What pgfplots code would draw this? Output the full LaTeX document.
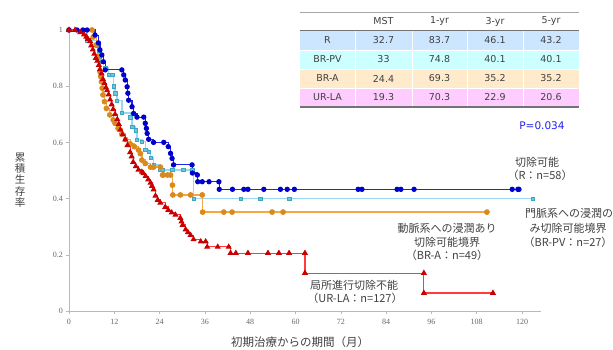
\documentclass[border=0pt]{standalone}
\usepackage{pgfplots}
\pgfplotsset{compat=1.18}
\usepackage{fontspec}
\setmainfont{Liberation Serif}
\newfontfamily\jp{Noto Sans CJK JP}
\newfontfamily\tb{DejaVu Sans}
\definecolor{cR}{HTML}{2222EE}
\definecolor{cRm}{HTML}{0000CC}
\definecolor{cPV}{HTML}{99D8F2}
\definecolor{cPVm}{HTML}{3AA8C4}
\definecolor{cA}{HTML}{F7A844}
\definecolor{cAm}{HTML}{D98A1E}
\definecolor{cU}{HTML}{FF3B3B}
\definecolor{cUm}{HTML}{C80000}
\definecolor{rowR}{HTML}{CCE6FF}
\definecolor{rowPV}{HTML}{CCFFFF}
\definecolor{rowA}{HTML}{FFEBCC}
\definecolor{rowU}{HTML}{FFCCFF}
\definecolor{txt}{HTML}{404040}
\begin{document}
\begin{tikzpicture}[x=1pt,y=1pt]
\begin{axis}[
  at={(69pt,38pt)}, anchor=south west, scale only axis,
  width=471.9pt, height=281pt,
  xmin=0, xmax=125, ymin=0, ymax=1,
  axis x line*=bottom, axis y line*=left,
  axis line style={draw=gray!55, line width=0.6pt},
  clip=false,
  xtick={0,12,24,36,48,60,72,84,96,108,120},
  xticklabels={0,12,24,36,48,60,72,84,96,108,120},
  ytick={0,0.2,0.4,0.6,0.8,1},
  yticklabels={0,0.2,0.4,0.6,0.8,1},
  tick align=outside, major tick length=2.5pt,
  tick style={draw=gray!55, line width=0.5pt},
  tick label style={font=\fontsize{8}{9}\selectfont, text=black!60},
  xticklabel style={yshift=-2pt},
  const plot,
]
% BR-PV
\addplot[color=cPV, line width=1.3pt, mark=square*, mark size=1.7pt,
  mark options={fill=cPVm!70, draw=cPVm, line width=0.4pt}] coordinates {
(0,1)(4.8,0.963)(7.4,0.945)(7.8,0.926)(8.2,0.905)(8.7,0.887)(9.6,0.865)(10.5,0.84)(11.4,0.84)(11.8,0.80)(12.2,0.775)(12.7,0.748)(14.0,0.705)(16.2,0.69)(16.7,0.656)(17.6,0.644)(18.0,0.61)(19.3,0.603)(20.2,0.573)(21.1,0.567)(21.6,0.545)(22.4,0.52)(24.2,0.502)(24.7,0.502)(27.3,0.502)(30.3,0.502)(32.6,0.502)(33.0,0.40)(45.5,0.40)(50.6,0.40)(58.3,0.40)(122.9,0.40)};
% BR-A
\addplot[color=cA, line width=1.3pt, mark=*, mark size=2.2pt,
  mark options={fill=cAm, draw=cAm}] coordinates {
(0,1)(6.1,1)(6.4,0.975)(7.2,0.947)(7.7,0.904)(8.2,0.852)(8.4,0.834)(8.6,0.816)(8.8,0.793)(9.0,0.769)(9.4,0.745)(9.9,0.721)(10.8,0.698)(11.7,0.68)(12.2,0.668)(13.0,0.65)(14.0,0.63)(15.0,0.61)(16.2,0.595)(17.3,0.585)(18.4,0.573)(18.9,0.56)(19.3,0.537)(20.2,0.525)(21.6,0.512)(22.4,0.512)(24.2,0.512)(24.8,0.484)(25.0,0.484)(26.1,0.484)(26.9,0.484)(27.4,0.448)(27.5,0.413)(29.5,0.413)(32.2,0.413)(35.3,0.413)(35.4,0.352)(41.0,0.352)(43.2,0.352)(53.8,0.352)(56.7,0.352)(110.7,0.352)};
% R
\addplot[color=cR, line width=1.1pt, mark=*, mark size=2.1pt,
  mark options={fill=cRm, draw=cRm}] coordinates {
(0,1)(2.1,1)(3.7,1)(4.8,1)(6.9,0.982)(7.8,0.954)(8.2,0.929)(8.7,0.911)(9.1,0.887)(9.6,0.858)(14.0,0.858)(14.5,0.84)(14.9,0.822)(15.4,0.798)(15.6,0.775)(15.8,0.75)(16.7,0.727)(17.1,0.703)(18.0,0.69)(19.8,0.69)(20.2,0.668)(20.5,0.65)(20.7,0.632)(21.1,0.611)(22.4,0.60)(25.1,0.60)(26.3,0.585)(26.9,0.561)(27.3,0.543)(27.7,0.52)(32.6,0.52)(32.7,0.491)(34.0,0.484)(34.1,0.46)(35.3,0.46)(37.1,0.46)(39.7,0.46)(39.8,0.433)(43.3,0.433)(46.3,0.433)(47.4,0.433)(51.6,0.433)(56.0,0.433)(57.8,0.433)(59.7,0.433)(76.6,0.433)(77.6,0.433)(86.9,0.433)(87.9,0.433)(91.4,0.433)(117.4,0.433)(118.9,0.433)(119.2,0.433)};
% UR-LA
\addplot[color=cU, line width=1.1pt, mark=triangle*, mark size=2.5pt,
  mark options={fill=cUm, draw=cUm}] coordinates {
(0,1)(1.6,1)(3.0,0.992)(4.0,0.984)(4.6,0.976)(5.0,0.968)(5.6,0.960)(5.9,0.945)(6.3,0.930)(6.7,0.915)(7.1,0.900)(7.5,0.890)(7.9,0.875)(8.2,0.860)(8.6,0.845)(9.0,0.825)(9.4,0.810)(9.8,0.795)(10.1,0.785)(10.5,0.770)(10.9,0.752)(11.3,0.735)(11.7,0.718)(12.2,0.700)(12.8,0.682)(13.2,0.665)(13.6,0.645)(14.2,0.628)(14.9,0.610)(15.5,0.590)(16.2,0.565)(16.6,0.550)(17.0,0.530)(17.7,0.515)(18.4,0.502)(19.3,0.495)(19.7,0.490)(20.3,0.480)(21.0,0.468)(21.6,0.456)(22.0,0.445)(22.4,0.432)(22.9,0.410)(23.5,0.395)(24.2,0.385)(25.5,0.370)(26.3,0.359)(27.2,0.350)(28.2,0.342)(29.5,0.331)(29.8,0.318)(30.1,0.306)(30.9,0.290)(31.5,0.280)(32.2,0.270)(33.0,0.255)(34.9,0.247)(36.2,0.247)(36.6,0.228)(39.4,0.228)(42.3,0.228)(42.8,0.206)(44.2,0.206)(47.4,0.206)(52.7,0.206)(55.6,0.206)(58.3,0.206)(62.5,0.206)(62.5,0.135)(94.0,0.135)(94.0,0.064)(112.3,0.064)};
\end{axis}
% table
\fill[rowR] (300,318) rectangle (579,299);
\fill[rowPV] (300,299) rectangle (579,280);
\fill[rowA] (300,280) rectangle (579,261);
\fill[rowU] (300,261) rectangle (579,242);
\foreach \xx in {355,412,467,523} \draw[white, line width=1pt] (\xx,337) -- (\xx,242);
\foreach \yy in {299,280,261} \draw[white, line width=0.8pt] (300,\yy) -- (579,\yy);
\draw[gray!70, line width=0.7pt] (300,337) -- (579,337);
\draw[gray!90!black, line width=1pt] (300,318) -- (579,318);
\draw[gray!90!black, line width=1.2pt] (300,242) -- (579,242);
\begin{scope}[every node/.style={font=\tb\fontsize{9.5}{11}\selectfont, text=txt, anchor=center}]
\node at (383.5,327.5) {MST};
\node at (439.5,327.5) {1-yr};
\node at (495,327.5) {3-yr};
\node at (551,327.5) {5-yr};
\node at (327.5,308.5) {R};   \node at (383.5,308.5) {32.7}; \node at (439.5,308.5) {83.7}; \node at (495,308.5) {46.1}; \node at (551,308.5) {43.2};
\node at (327.5,289.5) {BR-PV}; \node at (383.5,289.5) {33}; \node at (439.5,289.5) {74.8}; \node at (495,289.5) {40.1}; \node at (551,289.5) {40.1};
\node at (327.5,270.5) {BR-A}; \node at (383.5,270.5) {24.4}; \node at (439.5,270.5) {69.3}; \node at (495,270.5) {35.2}; \node at (551,270.5) {35.2};
\node at (327.5,251.5) {UR-LA}; \node at (383.5,251.5) {19.3}; \node at (439.5,251.5) {70.3}; \node at (495,251.5) {22.9}; \node at (551,251.5) {20.6};
\end{scope}
\node[font=\tb\fontsize{10.5}{12}\selectfont, text=cR] at (542,223) {P=0.034};
% annotations
\begin{scope}[every node/.style={font=\jp\fontsize{11}{13}\selectfont, text=txt, anchor=center, inner sep=0pt}]
\node at (537,187) {切除可能};
\node at (540,174) {（R：n=58）};
\node at (569,136) {門脈系への浸潤の};
\node at (568,121) {み切除可能境界};
\node at (568,107) {（BR-PV：n=27）};
\node at (447,121) {動脈系への浸潤あり};
\node at (447,107) {切除可能境界};
\node at (447,94) {（BR-A：n=49）};
\node at (354,64) {局所進行切除不能};
\node at (355,51) {（UR-LA：n=127）};
\node[font=\jp\fontsize{10.5}{11.3}\selectfont, align=center] at (20,169) {累\\積\\生\\存\\率};
\node[font=\jp\fontsize{11.5}{13}\selectfont] at (300,6.5) {初期治療からの期間（月）};
\end{scope}
\pgfresetboundingbox
\path[use as bounding box] (0,0) rectangle (613,349);
\end{tikzpicture}
\end{document}
